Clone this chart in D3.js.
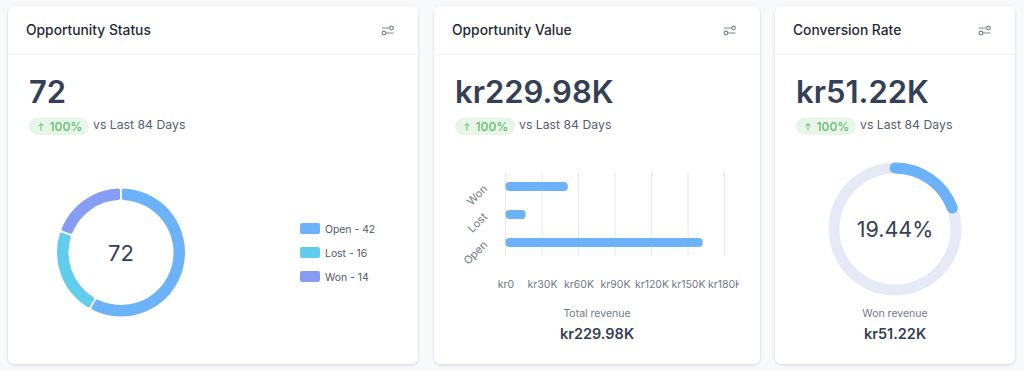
<!DOCTYPE html>
<html>
<head>
<meta charset="utf-8">
<script src="https://cdn.jsdelivr.net/npm/d3@7"></script>
<style>
  html, body { margin: 0; padding: 0; background: #f8f9fb; overflow: hidden; }
  svg { display: block; }
  text { font-family: Inter, "Noto Sans", sans-serif; }
</style>
</head>
<body>
<div id="chart"></div>
<script>
const statusLabels = ["Open", "Lost", "Won"];
const statusCounts = [42, 16, 14];
const statusColors = ["#6cb2f9", "#60cdec", "#879df3"];

const revenueLabels = ["Won", "Lost", "Open"];
const revenueValues = [51.22, 16.6, 162.1];
const revenueTicks = [0, 30, 60, 90, 120, 150, 180];

const conversionPct = 19.44;

const cards = [
  { x: 8, width: 410, title: "Opportunity Status", big: "72" },
  { x: 434, width: 326, title: "Opportunity Value", big: "kr229.98K" },
  { x: 775, width: 240, title: "Conversion Rate", big: "kr51.22K" }
];

const svg = d3.select("#chart").append("svg")
  .attr("width", 1024)
  .attr("height", 371);

const defs = svg.append("defs");
const shadow = defs.append("filter").attr("id", "cardShadow")
  .attr("x", "-5%").attr("y", "-5%").attr("width", "110%").attr("height", "110%");
shadow.append("feDropShadow")
  .attr("dx", 0).attr("dy", 1).attr("stdDeviation", 1.5)
  .attr("flood-color", "#1f2a44").attr("flood-opacity", 0.16);

defs.append("clipPath").attr("id", "tickClip")
  .append("rect").attr("x", 440).attr("y", 260).attr("width", 298.5).attr("height", 50);

// cards
cards.forEach(c => {
  const g = svg.append("g");

  g.append("rect")
    .attr("x", c.x).attr("y", 6)
    .attr("width", c.width).attr("height", 358)
    .attr("rx", 7)
    .attr("fill", "#fff")
    .attr("filter", "url(#cardShadow)");

  g.append("line")
    .attr("x1", c.x).attr("x2", c.x + c.width)
    .attr("y1", 54.5).attr("y2", 54.5)
    .attr("stroke", "#eff1f5");

  g.append("text")
    .attr("x", c.x + 18).attr("y", 35)
    .attr("font-size", 13.8).attr("font-weight", 500)
    .attr("fill", "#1f2937")
    .text(c.title);

  g.append("text")
    .attr("x", c.x + 21).attr("y", 103)
    .attr("font-size", 31).attr("font-weight", 600)
    .attr("fill", "#344056")
    .text(c.big);

  // change pill
  g.append("rect")
    .attr("x", c.x + 21).attr("y", 117.5)
    .attr("width", 60).attr("height", 17.5)
    .attr("rx", 8.75)
    .attr("fill", "#e8f6ea");

  g.append("path")
    .attr("d", `M${c.x + 33} 130.5V123.5M${c.x + 30.5} 126L${c.x + 33} 123.5L${c.x + 35.5} 126`)
    .attr("fill", "none")
    .attr("stroke", "#63bd70")
    .attr("stroke-width", 1);

  g.append("text")
    .attr("x", c.x + 41.5).attr("y", 131)
    .attr("font-size", 12.2).attr("font-weight", 500)
    .attr("fill", "#63bd70")
    .text("100%");

  g.append("text")
    .attr("x", c.x + 85).attr("y", 129)
    .attr("font-size", 12.25)
    .attr("fill", "#566073")
    .text("vs Last 84 Days");

  // filter icon
  const ix = c.x + c.width - 36;
  const icon = g.append("g")
    .attr("fill", "none").attr("stroke", "#7a8594").attr("stroke-width", 1.2);
  icon.append("path").attr("d", `M${ix} 28H${ix + 7.5}M${ix + 4} 33H${ix + 11.5}`);
  icon.append("circle").attr("cx", ix + 9.5).attr("cy", 28).attr("r", 1.8);
  icon.append("circle").attr("cx", ix + 1.9).attr("cy", 33).attr("r", 1.8);
});

// donut
const donut = svg.append("g").attr("transform", "translate(121,252.5)");
const pie = d3.pie().sort(null).padAngle(0.022)(statusCounts);
const arc = d3.arc().innerRadius(52.5).outerRadius(64).cornerRadius(2);

donut.selectAll("path")
  .data(pie)
  .join("path")
  .attr("d", arc)
  .attr("fill", (d, i) => statusColors[i]);

donut.append("text")
  .attr("text-anchor", "middle")
  .attr("y", 8)
  .attr("font-size", 22)
  .attr("fill", "#344056")
  .text(d3.sum(statusCounts));

// donut legend
const legendY = d3.scalePoint().domain(statusLabels).range([228.5, 276.5]);
const legend = svg.append("g").selectAll("g")
  .data(statusLabels)
  .join("g")
  .attr("transform", d => `translate(300,${legendY(d)})`);

legend.append("rect")
  .attr("y", -5.5).attr("width", 20).attr("height", 11).attr("rx", 2)
  .attr("fill", (d, i) => statusColors[i]);

legend.append("text")
  .attr("x", 25).attr("y", 4)
  .attr("font-size", 10.4)
  .attr("fill", "#4e5869")
  .text((d, i) => `${d} - ${statusCounts[i]}`);

// revenue bars
const x = d3.scaleLinear().domain([0, 180]).range([505.5, 724.5]);
const y = d3.scaleBand().domain(revenueLabels).range([172.5, 256.5]);

// clip sits on an outer group so it stays in page coordinates
svg.append("g")
  .attr("clip-path", "url(#tickClip)")
  .append("g")
  .attr("transform", "translate(0,256.5)")
  .call(d3.axisBottom(x).tickValues(revenueTicks).tickFormat(d => d ? `kr${d}K` : "kr0").tickSize(0).tickPadding(0))
  .call(g => g.select(".domain").remove())
  .call(g => g.selectAll("text")
    .attr("y", 31.5)
    .attr("dy", 0)
    .attr("font-size", 10.5)
    .attr("font-family", "Inter, sans-serif")
    .attr("fill", "#6f7a8c"));

svg.append("g").selectAll("line")
  .data(revenueTicks)
  .join("line")
  .attr("x1", d => x(d)).attr("x2", d => x(d))
  .attr("y1", 172.5).attr("y2", 256.5)
  .attr("stroke", "#e3e7f1");

svg.append("g").selectAll("rect")
  .data(revenueValues)
  .join("rect")
  .attr("x", x(0))
  .attr("y", (d, i) => y(revenueLabels[i]) + y.bandwidth() / 2 - 4.5)
  .attr("width", d => x(d) - x(0))
  .attr("height", 9)
  .attr("rx", 4)
  .attr("fill", statusColors[0]);

svg.append("g").selectAll("text")
  .data(revenueLabels)
  .join("text")
  .attr("text-anchor", "end")
  .attr("font-size", 11)
  .attr("fill", "#6f7a8c")
  .attr("transform", d => `translate(488,${y(d) + y.bandwidth() / 2 + 3}) rotate(-45)`)
  .text(d => d);

// conversion gauge, rounded ends stick out past the value like a line cap
const gauge = svg.append("g").attr("transform", "translate(895,229)");
const ring = d3.arc().innerRadius(55.5).outerRadius(66.5);
const capAngle = 5.5 / 61;

gauge.append("path")
  .attr("d", ring({ startAngle: 0, endAngle: 2 * Math.PI }))
  .attr("fill", "#e6eaf7");

gauge.append("path")
  .attr("d", ring.cornerRadius(5.5)({
    startAngle: -capAngle,
    endAngle: 2 * Math.PI * conversionPct / 100 + capAngle
  }))
  .attr("fill", statusColors[0]);

gauge.append("text")
  .attr("text-anchor", "middle")
  .attr("y", 8)
  .attr("font-size", 21.5)
  .attr("fill", "#344056")
  .text(`${conversionPct}%`);

// footers
const footers = [
  { cx: 597, label: "Total revenue", value: "kr229.98K" },
  { cx: 895, label: "Won revenue", value: "kr51.22K" }
];

footers.forEach(f => {
  svg.append("text")
    .attr("x", f.cx).attr("y", 317)
    .attr("text-anchor", "middle")
    .attr("font-size", 10.5)
    .attr("fill", "#6f7a8c")
    .text(f.label);
  svg.append("text")
    .attr("x", f.cx).attr("y", 339)
    .attr("text-anchor", "middle")
    .attr("font-size", 14.5).attr("font-weight", 600)
    .attr("fill", "#344056")
    .text(f.value);
});
</script>
</body>
</html>
